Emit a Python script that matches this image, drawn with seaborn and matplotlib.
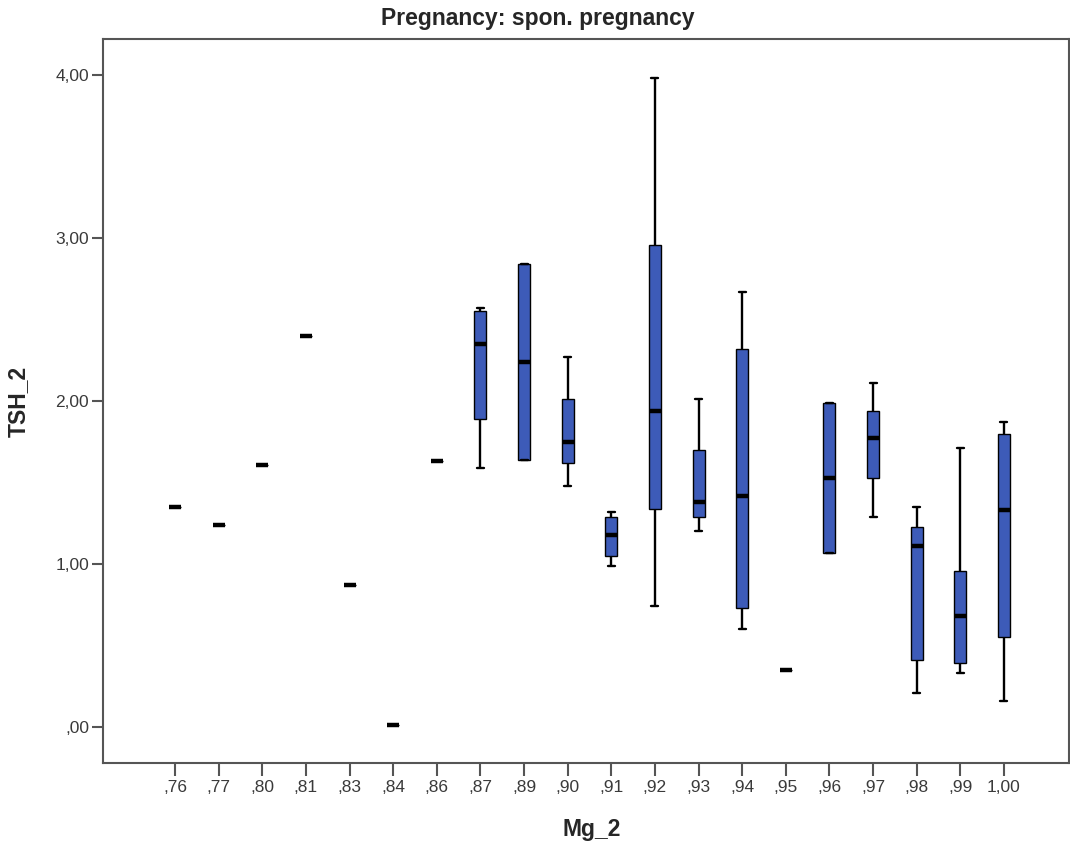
import matplotlib.pyplot as plt
import pandas as pd
import seaborn as sns

# Mg_2 categories and the five-number summary of TSH_2 for each one
MG_LABELS = [",76", ",77", ",80", ",81", ",83", ",84", ",86", ",87", ",89", ",90",
             ",91", ",92", ",93", ",94", ",95", ",96", ",97", ",98", ",99", "1,00"]
WHISKER_LOW = [1.35, 1.24, 1.61, 2.40, 0.87, 0.01, 1.63, 1.59, 1.64, 1.48,
               0.99, 0.74, 1.20, 0.60, 0.35, 1.07, 1.29, 0.21, 0.33, 0.16]
Q1 = [1.35, 1.24, 1.61, 2.40, 0.87, 0.01, 1.63, 1.89, 1.64, 1.62,
      1.05, 1.34, 1.29, 0.73, 0.35, 1.07, 1.53, 0.41, 0.39, 0.55]
MEDIAN = [1.35, 1.24, 1.61, 2.40, 0.87, 0.01, 1.63, 2.35, 2.24, 1.75,
          1.18, 1.94, 1.38, 1.42, 0.35, 1.53, 1.77, 1.11, 0.68, 1.33]
Q3 = [1.35, 1.24, 1.61, 2.40, 0.87, 0.01, 1.63, 2.55, 2.84, 2.01,
      1.29, 2.96, 1.70, 2.32, 0.35, 1.99, 1.94, 1.23, 0.96, 1.80]
WHISKER_HIGH = [1.35, 1.24, 1.61, 2.40, 0.87, 0.01, 1.63, 2.57, 2.84, 2.27,
                1.32, 3.98, 2.01, 2.67, 0.35, 1.99, 2.11, 1.35, 1.71, 1.87]

Y_TICKS = [0, 1, 2, 3, 4]
Y_TICK_LABELS = [",00", "1,00", "2,00", "3,00", "4,00"]

TITLE = "Pregnancy: spon. pregnancy"
BOX_COLOR = "#3D5BB8"
FRAME_COLOR = "#555555"


def build_frame() -> pd.DataFrame:
    """Long table: one row per summary value, so the box quartiles land on them."""
    rows = []
    for i, label in enumerate(MG_LABELS):
        vals = [WHISKER_LOW[i], Q1[i], MEDIAN[i], Q3[i], WHISKER_HIGH[i]]
        if len(set(vals)) == 1:
            vals = vals[:1]
        for v in vals:
            rows.append({"Mg_2": label, "TSH_2": v})
    return pd.DataFrame(rows)


def main() -> None:
    sns.set_style("white")
    plt.rcParams["font.family"] = ["Liberation Sans", "DejaVu Sans"]

    df = build_frame()

    fig = plt.figure(figsize=(10.7, 8.42), dpi=100)
    ax = fig.add_axes([103 / 1070, 1 - 763 / 842, (1069 - 103) / 1070, (763 - 39) / 842])

    sns.boxplot(
        data=df, x="Mg_2", y="TSH_2", order=MG_LABELS, whis=(0, 100),
        width=0.275, color=BOX_COLOR, saturation=1, linecolor="black", linewidth=1,
        medianprops=dict(linewidth=3.2, solid_capstyle="butt"),
        whiskerprops=dict(linewidth=1.7),
        capprops=dict(linewidth=1.7),
        capwidths=0.16,
        ax=ax,
    )

    ax.set_xlim(-1.65, 20.49)
    ax.set_ylim(-0.221, 4.221)
    ax.set_yticks(Y_TICKS)
    ax.set_yticklabels(Y_TICK_LABELS)

    for spine in ax.spines.values():
        spine.set_visible(True)
        spine.set_color(FRAME_COLOR)
        spine.set_linewidth(1.5)

    ax.tick_params(axis="both", direction="out", length=8, width=1.5, color=FRAME_COLOR,
                   labelsize=12.5, labelcolor="#3a3a3a", pad=2, bottom=True, left=True)
    ax.tick_params(axis="x", length=9, pad=3)

    ax.set_xlabel("Mg_2", fontsize=16.5, fontweight="bold", va="top")
    ax.xaxis.set_label_coords((592 - 103) / 966, (763 - 818) / 724)
    ax.set_ylabel("TSH_2", fontsize=16.5, fontweight="bold")
    ax.yaxis.set_label_coords((30 - 103) / 966, 0.5)

    fig.text(538 / 1070, 1 - 19 / 842, TITLE, ha="center", va="center",
             fontsize=16.5, fontweight="bold")

    fig.savefig("out.png", dpi=100)


if __name__ == "__main__":
    main()
